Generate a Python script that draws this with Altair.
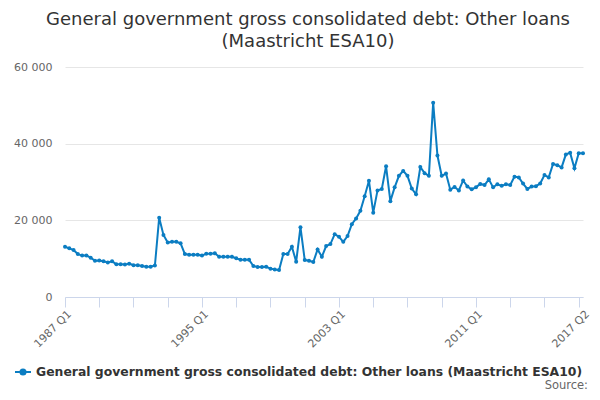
import altair as alt
import pandas as pd

years = list(range(1987, 2018))
periods = [f"{y} Q{q}" for y in years for q in range(1, 5)][:122]

values = [
    13100, 12700, 12250, 11200, 10800, 10800, 10250, 9470, 9500, 9300,
    9000, 9300, 8530, 8530, 8450, 8700, 8300, 8300, 8100, 7900,
    7900, 8200, 20700, 16200, 14200, 14400, 14400, 14000, 11200, 11000,
    11000, 11000, 10800, 11300, 11300, 11400, 10500, 10500, 10500, 10500,
    10100, 9700, 9700, 9700, 8100, 7800, 7800, 7900, 7400, 7200,
    7040, 11200, 11200, 13100, 9200, 18200, 9650, 9470, 9130, 12400,
    10500, 13300, 13800, 16400, 15700, 14400, 15900, 19000, 20500, 22500,
    26300, 30300, 22000, 27800, 28200, 34100, 25000, 28600, 31600, 32900,
    31600, 28300, 26800, 33900, 32300, 31600, 50700, 36900, 31600, 32200,
    28000, 28700, 27800, 30400, 28800, 28100, 28600, 29500, 29200, 30700,
    28600, 29400, 29000, 29400, 29200, 31400, 31200, 29600, 28200, 28800,
    28900, 29600, 31800, 31200, 34700, 34400, 33800, 37200, 37600, 33600,
    37500, 37500,
]

series_name = "General government gross consolidated debt: Other loans (Maastricht ESA10)"
title_lines = ["General government gross consolidated debt: Other loans", "(Maastricht ESA10)"]
tick_periods = periods[0:121:8] + [periods[-1]]
label_periods = ["1987 Q1", "1995 Q1", "2003 Q1", "2011 Q1", "2017 Q2"]
y_ticks = [0, 20000, 40000, 60000]

df = pd.DataFrame({"period": periods, "value": values, "series": series_name})

color = "#0b7dc2"
label_list = "[" + ",".join(f"'{p}'" for p in label_periods) + "]"

legend_symbol = ("M-1,0L1,0M0.32,0A0.32,0.32,0,1,1,-0.32,0"
                 "A0.32,0.32,0,1,1,0.32,0Z")

line = alt.Chart(df).mark_line(
    strokeWidth=2,
    point=alt.OverlayMarkDef(size=16, filled=True, color=color),
).encode(
    x=alt.X(
        "period:O",
        sort=periods,
        scale=alt.Scale(type="point", padding=0),
        axis=alt.Axis(
            title=None,
            values=tick_periods,
            labelExpr=f"indexof({label_list}, datum.value) >= 0 ? datum.value : ''",
            labelAngle=-45,
            labelAlign="right",
            labelBaseline="top",
            labelPadding=1,
            labelFontSize=11,
            labelColor="#666666",
            labelFont="DejaVu Sans",
            labelOverlap=False,
            labelFlush=False,
            labelBound=False,
            domainColor="#ccd6eb",
            tickColor={"condition": {"test": f"datum.value == '{periods[-1]}'", "value": "transparent"}, "value": "#ccd6eb"},
            tickSize=10,
            grid=False,
        ),
    ),
    y=alt.Y(
        "value:Q",
        scale=alt.Scale(domain=[0, 60000], nice=False),
        axis=alt.Axis(
            title=None,
            values=y_ticks,
            labelExpr="datum.value == 0 ? '0' : format(datum.value / 1000, 'd') + ' 000'",
            labelFontSize=11,
            labelColor="#666666",
            labelFont="DejaVu Sans",
            labelPadding=13,
            ticks=False,
            domain=False,
            gridColor="#e6e6e6",
        ),
    ),
    color=alt.Color(
        "series:N",
        scale=alt.Scale(range=[color]),
        legend=alt.Legend(
            title=None,
            orient="none",
            legendX=-51,
            legendY=296,
            symbolType=legend_symbol,
            symbolSize=256,
            symbolStrokeWidth=2,
            labelFontSize=12.4,
            labelFontWeight="bold",
            labelColor="#333333",
            labelFont="DejaVu Sans",
            labelLimit=700,
        ),
    ),
)

source = alt.Chart(pd.DataFrame({"t": ["Source:"]})).mark_text(
    align="right", baseline="alphabetic", fontSize=11.5, color="#666666", font="DejaVu Sans"
).encode(text="t:N", x=alt.value(523), y=alt.value(322))

chart = alt.layer(line, source).properties(
    width=518,
    height=230,
    padding={"left": 57, "top": 59, "right": 9, "bottom": 95},
    autosize="none",
    title=alt.TitleParams(
        text=title_lines,
        fontSize=18,
        font="DejaVu Sans",
        fontWeight="normal",
        color="#333333",
        anchor="middle",
        dx=-16,
        offset=10,
        lineHeight=22,
    ),
).configure_view(stroke=None)

chart.save("out.html", embed_options={"renderer": "svg", "actions": False})
